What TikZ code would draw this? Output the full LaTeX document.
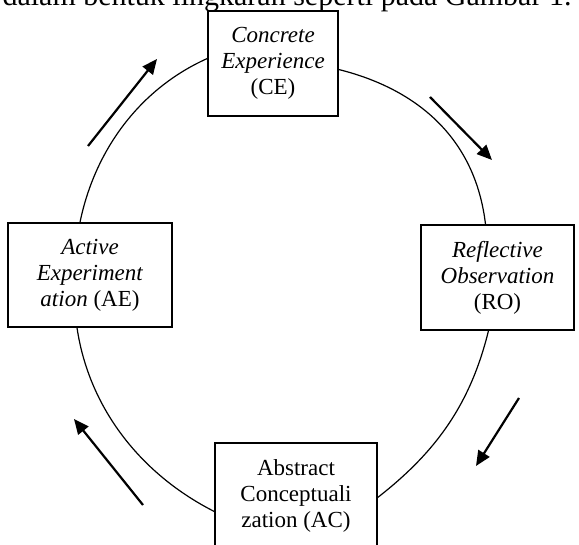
\documentclass[tikz,border=0pt]{standalone}
\usepackage{fontspec}
\setmainfont{Liberation Serif}
\usetikzlibrary{arrows.meta}
\begin{document}
\begin{tikzpicture}[x=1pt,y=-1pt,
 phase node/.style={rectangle,draw,fill=white,line width=1.4pt,align=center,
   inner sep=0pt,font=\fontsize{23}{26}\selectfont},
 cycle/.style={line width=1.2pt},
 flow/.style={line width=2.2pt,-{Triangle[length=15pt,width=13pt]}}]

  \useasboundingbox (0,0) rectangle (579,545);
  \clip (0,0) rectangle (579,545);

  % sentence cut off at the top
  \node[anchor=base,inner sep=0pt,font=\fontsize{30}{36}\selectfont] (caption) at (287,6)
    {dalam bentuk lingkaran seperti pada Gambar 1.};

  \node[phase node,minimum width=130,minimum height=105] (ce) at (273,63.5)
    {\textit{Concrete}\\\textit{Experience}\\(CE)};
  \node[phase node,minimum width=153,minimum height=105] (ro) at (497.5,277.5)
    {\textit{Reflective}\\\textit{Observation}\\(RO)};
  \node[phase node,minimum width=162,minimum height=105] (ac) at (296,495.5)
    {Abstract\\Conceptuali\\zation (AC)};
  \node[phase node,minimum width=164,minimum height=104] (ae) at (90,275)
    {\textit{Active}\\\textit{Experiment}\\\textit{ation} (AE)};

  % the cycle, box to box
  \draw[cycle] ([yshift=5pt]ce.west) .. controls +(-67,30) and +(15,-73) .. ([xshift=-10pt]ae.north);
  \draw[cycle] ([yshift=-6pt]ce.east) .. controls +(80,20) and +(-10,-85) .. ([xshift=-12pt]ro.north);
  \draw[cycle] ([xshift=-9pt]ro.south) .. controls +(-18,73) and +(59,-46) .. ([yshift=-2pt]ac.east);
  \draw[cycle] ([yshift=-16pt]ac.west) .. controls +(-73,-37) and +(12,81) .. ([xshift=-13pt]ae.south);

  % direction arrows
  \coordinate (ul tail) at (88,146);  \coordinate (ul tip) at (157,59);
  \coordinate (ur tail) at (430,97);  \coordinate (ur tip) at (492,160);
  \coordinate (lr tail) at (519,398); \coordinate (lr tip) at (476,466);
  \coordinate (ll tail) at (143,505); \coordinate (ll tip) at (74,419);

  \draw[flow] (ul tail) -- (ul tip);
  \draw[flow] (ur tail) -- (ur tip);
  \draw[flow] (lr tail) -- (lr tip);
  \draw[flow] (ll tail) -- (ll tip);
\end{tikzpicture}
\end{document}
